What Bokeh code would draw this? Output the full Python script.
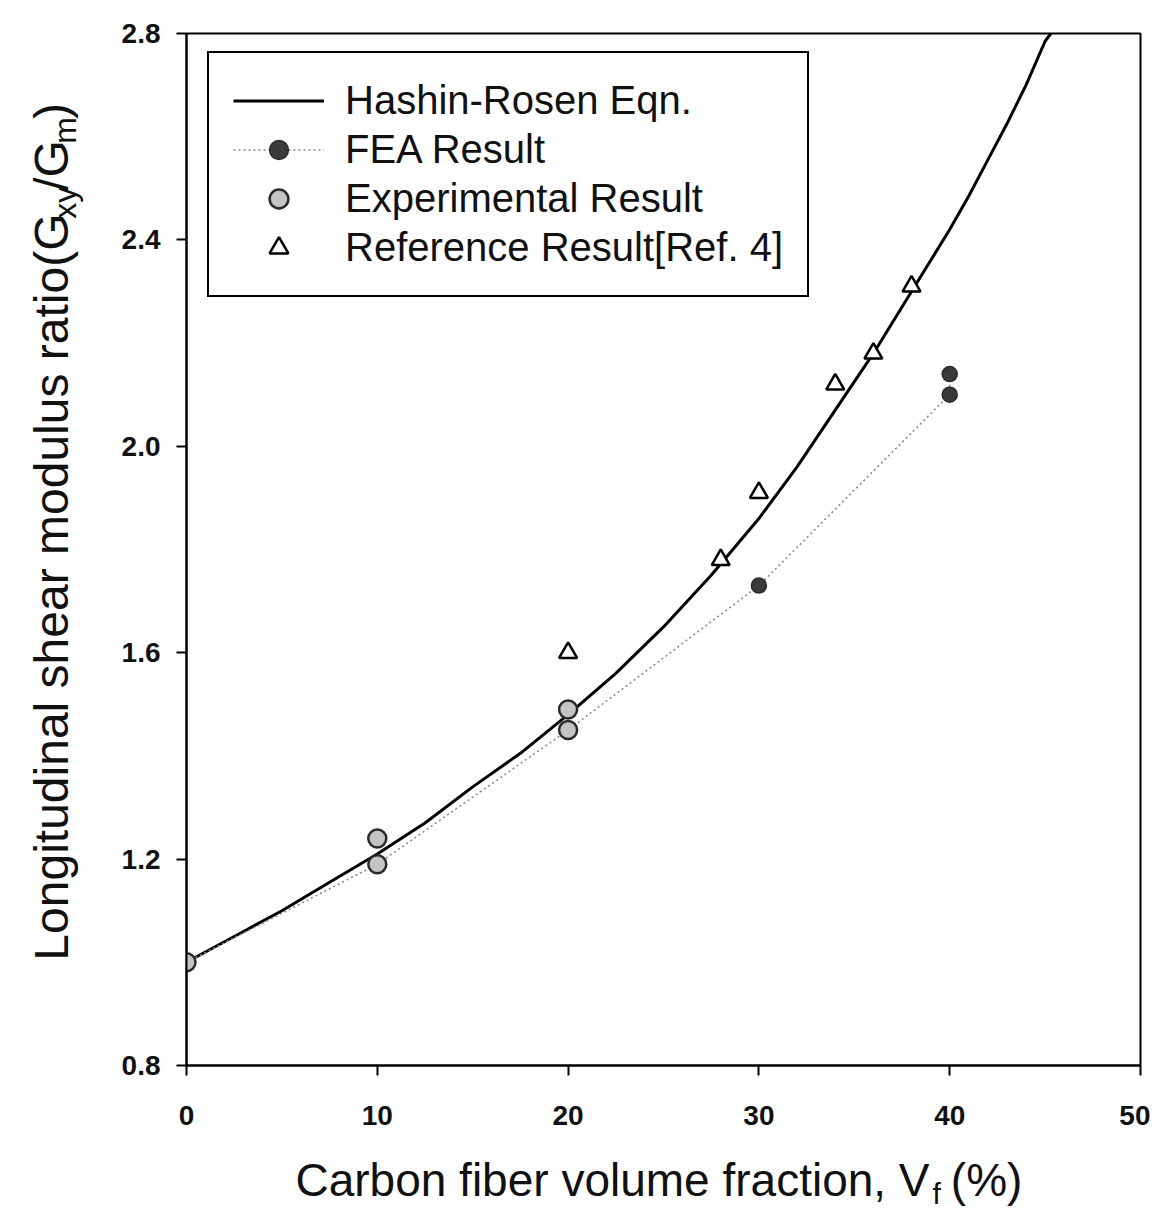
import math
from bokeh.plotting import figure
from bokeh.layouts import column, row
from bokeh.models import Range1d, Label, Legend, LegendItem, FixedTicker, NumeralTickFormatter
from bokeh.embed import file_html
from bokeh.resources import INLINE

# ---- data ----
hr_x = [0, 2.5, 5, 7.5, 10, 12.5, 15, 17.5, 20, 22.5, 25, 27.5, 30, 32, 34, 36, 38, 40, 41, 42, 43, 44, 45, 45.3]
hr_y = [1.00, 1.05, 1.10, 1.155, 1.21, 1.27, 1.34, 1.405, 1.48, 1.56, 1.65, 1.75, 1.86, 1.96, 2.07, 2.18, 2.30,
        2.42, 2.485, 2.555, 2.625, 2.70, 2.785, 2.80]

fea_x = [0, 10, 20, 30, 40, 40]
fea_y = [1.00, 1.19, 1.45, 1.73, 2.10, 2.14]

exp_x = [0, 10, 10, 20, 20]
exp_y = [1.00, 1.19, 1.24, 1.45, 1.49]

ref_x = [20, 28, 30, 34, 36, 38]
ref_y = [1.60, 1.78, 1.91, 2.12, 2.18, 2.31]

x_ticks = [0, 10, 20, 30, 40, 50]
y_ticks = [0.8, 1.2, 1.6, 2.0, 2.4, 2.8]

FONT = "Liberation Sans"
TXT = "#111111"

LEFT_W = 110          # width of the strip holding the y-axis title
MAIN_W, MAIN_H = 1040, 1140
BOT_H = 70

p = figure(width=MAIN_W, height=MAIN_H, x_range=Range1d(0, 50), y_range=Range1d(0.8, 2.8),
           output_backend="svg", toolbar_location=None,
           min_border_left=76, min_border_right=10, min_border_top=33, min_border_bottom=75)
p.grid.visible = False
p.outline_line_color = "black"
p.outline_line_width = 2
p.background_fill_color = "white"

p.xaxis.ticker = FixedTicker(ticks=x_ticks)
p.yaxis.ticker = FixedTicker(ticks=y_ticks)
p.xaxis.formatter = NumeralTickFormatter(format="0")
p.yaxis.formatter = NumeralTickFormatter(format="0.0")
for ax in (p.xaxis, p.yaxis):
    ax.axis_line_width = 2
    ax.axis_line_color = "black"
    ax.major_tick_line_width = 2
    ax.major_tick_in = 0
    ax.major_tick_out = 10
    ax.minor_tick_line_color = None
    ax.major_label_text_font = FONT
    ax.major_label_text_font_style = "bold"
    ax.major_label_text_color = TXT
p.xaxis.major_label_text_font_size = "28px"
p.xaxis.major_label_standoff = 30
p.yaxis.major_label_text_font_size = "28px"
p.yaxis.major_label_standoff = 16

hr = p.line(hr_x, hr_y, line_color="black", line_width=3)
fea_l = p.line(fea_x, fea_y, line_color="#8a8a8a", line_width=1.6, line_dash="2 3")
fea_p = p.scatter(fea_x, fea_y, marker="circle", size=15, fill_color="#3a3a3a", line_color="#2a2a2a", line_width=1.5)
exp_p = p.scatter(exp_x, exp_y, marker="circle", size=18, fill_color="#c4c4c4", line_color="#2a2a2a", line_width=2.5)
ref_p = p.scatter(ref_x, ref_y, marker="triangle", size=18, fill_color="white", line_color="black", line_width=2.5)

legend = Legend(items=[
    LegendItem(label="Hashin-Rosen Eqn.", renderers=[hr]),
    LegendItem(label="FEA Result", renderers=[fea_l, fea_p]),
    LegendItem(label="Experimental Result", renderers=[exp_p]),
    LegendItem(label="Reference Result[Ref. 4]", renderers=[ref_p]),
], location=(21, 768))
legend.margin = 0
legend.padding = 24
legend.spacing = 2
legend.glyph_width = 91
legend.glyph_height = 47
legend.label_height = 47
legend.label_standoff = 21
legend.label_text_font = FONT
legend.label_text_font_size = "40px"
legend.label_text_color = TXT
legend.border_line_color = "black"
legend.border_line_alpha = 1
legend.border_line_width = 2
legend.background_fill_color = "white"
legend.background_fill_alpha = 1
p.add_layout(legend)


def text_canvas(w, h):
    f = figure(width=w, height=h, x_range=Range1d(0, w), y_range=Range1d(0, h),
               output_backend="svg", toolbar_location=None, x_axis_type=None, y_axis_type=None,
               min_border=0)
    f.grid.visible = False
    f.outline_line_color = None
    f.background_fill_color = "white"
    f.border_fill_color = "white"
    return f


# approximate Arial advance widths (em) for placing sub-scripted label pieces
W = {'C': .722, 'a': .556, 'r': .333, 'b': .556, 'o': .556, 'n': .556, ' ': .278, 'f': .278, 'i': .222,
     'e': .556, 'v': .5, 'l': .222, 'u': .556, 'm': .833, 'c': .5, 't': .278, ',': .278, 'V': .667,
     'L': .556, 'g': .556, 'd': .556, 's': .5, 'h': .556, '(': .333, ')': .333, 'G': .778, 'x': .5,
     'y': .5, '/': .278, '%': .889}


def tw(s, size):
    return sum(W.get(ch, .556) for ch in s) * size


def put(fig, text, x, y, size, angle=0.0):
    fig.add_layout(Label(x=x, y=y, text=text, angle=angle, text_font=FONT, text_font_size=f"{size}px",
                         text_color=TXT, text_align="center", text_baseline="middle"))


# y-axis title (rotated, reading upward) with subscripts; pieces placed by their centres
ylab = text_canvas(LEFT_W, MAIN_H)
big, small = 48, 32
base_x = 68                     # page x of the (rotated) baseline
pieces = [("Longitudinal shear modulus ratio(G", big, 0, -20), ("xy", small, 8, 15), ("/G", big, 0, 15),
          ("m", small, 8, 15), (")", big, 0, 15)]
cy = MAIN_H - 965               # start of the text (data y, up)
for t, s, dx, shift in pieces:
    w = tw(t, s)
    put(ylab, t, base_x + dx - 0.35 * s, cy + w / 2 + shift, s, angle=math.pi / 2)
    cy += w

# x-axis title with subscript
tot_w = LEFT_W + MAIN_W
xlab = text_canvas(tot_w, BOT_H)
big, small = 46, 30
base_y = BOT_H - (1196 - MAIN_H)   # baseline in data units of the strip
cx = 295
for t, s, dy, gap in [("Carbon fiber volume fraction, V", big, 0, 3), ("f", small, -7, 10), ("(%)", big, 0, 0)]:
    w = tw(t, s)
    put(xlab, t, cx + w / 2, base_y + dy + 0.35 * s, s)
    cx += w + gap

layout = column(row(ylab, p), xlab)
open("out.html", "w").write(file_html(layout, INLINE))
